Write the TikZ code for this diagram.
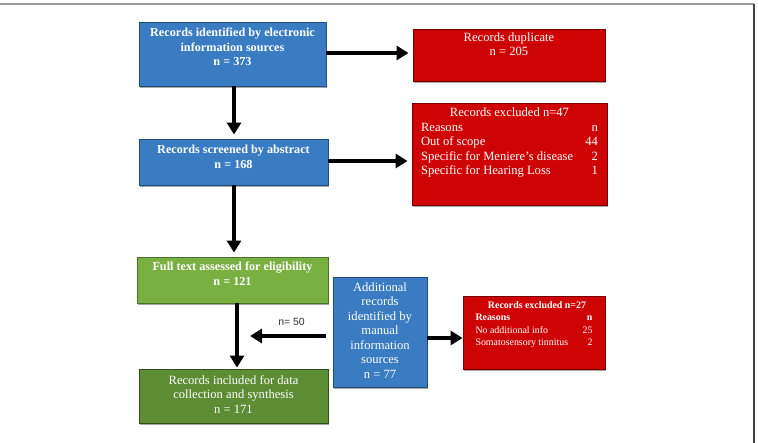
\documentclass[tikz,border=0pt]{standalone}
\usepackage{fontspec}
\setmainfont{Liberation Serif}
\newfontfamily\arialf{Liberation Sans}
\usetikzlibrary{arrows.meta,shadows}
\definecolor{cblue}{RGB}{58,124,194}
\definecolor{cblueD}{RGB}{35,75,125}
\definecolor{cred}{RGB}{206,4,4}
\definecolor{credD}{RGB}{120,0,0}
\definecolor{cgreenL}{RGB}{121,176,66}
\definecolor{cgreenLD}{RGB}{75,115,40}
\definecolor{cgreenD}{RGB}{92,140,52}
\definecolor{cgreenDD}{RGB}{50,80,28}
\begin{document}
\begin{tikzpicture}[x=1pt,y=-1pt,
  box/.style={rectangle, line width=0.9pt, text=white, inner sep=0pt,
    font=\fontsize{12.6}{14.5}\selectfont,
    drop shadow={shadow xshift=1.2pt,shadow yshift=-1.6pt,fill=black,opacity=0.35}},
  bluebox/.style={box, fill=cblue, draw=cblueD},
  redbox/.style={box, fill=cred, draw=credD},
  lgbox/.style={box, fill=cgreenL, draw=cgreenLD},
  dgbox/.style={box, fill=cgreenD, draw=cgreenDD},
  boldtext/.style={font=\fontsize{12.2}{14.5}\selectfont\bfseries},
  arr/.style={line width=3.6pt, -{Triangle[width=14pt,length=12pt]}, shorten >=4pt},
  framel/.style={line width=1.2pt}
]
\useasboundingbox (0,0) rectangle (758,443);
\draw[framel, black!40] (0,4) -- (754,4);
\draw[framel, black!75] (754,4) -- (754,443);

\node[bluebox, boldtext, minimum width=187pt, minimum height=64pt] (b1) at (232.5,54)
  {\begin{tabular}{@{}c@{}}Records identified by electronic\\information sources\\n = 373\\[11pt]\end{tabular}};
\node[redbox, minimum width=192pt, minimum height=52pt] (dup) at (509,55)
  {\begin{tabular}{@{}c@{}}Records duplicate\\n = 205\\[19pt]\end{tabular}};
\node[bluebox, boldtext, minimum width=189pt, minimum height=46pt] (b2) at (233.5,162)
  {\begin{tabular}{@{}c@{}}Records screened by abstract\\n = 168\\[8pt]\end{tabular}};
\node[redbox, minimum width=195pt, minimum height=102pt] (ex1) at (509.5,154)
  {\begin{tabular*}{177pt}{@{}l@{\extracolsep{\fill}}r@{}}
   \multicolumn{2}{c}{Records excluded n=47}\\
   Reasons & n\\
   Out of scope & 44\\
   Specific for Meniere's disease & 2\\
   Specific for Hearing Loss & 1\\[22pt]
   \end{tabular*}};
\node[lgbox, boldtext, minimum width=191pt, minimum height=46pt] (g1) at (232.5,280)
  {\begin{tabular}{@{}c@{}}Full text assessed for eligibility\\n = 121\\[10pt]\end{tabular}};
\node[dgbox, minimum width=189pt, minimum height=54pt] (g2) at (233.5,396)
  {\begin{tabular}{@{}c@{}}Records included for data\\collection and synthesis\\n = 171\end{tabular}};
\node[bluebox, minimum width=94pt, minimum height=110pt] (add) at (380,332)
  {\begin{tabular}{@{}c@{}}Additional\\records\\identified by\\manual\\information\\sources\\n = 77\end{tabular}};
\node[redbox, minimum width=142pt, minimum height=73pt, font=\fontsize{9.9}{12.3}\selectfont] (ex2) at (534,332.5)
  {\begin{tabular*}{117pt}{@{}l@{\extracolsep{\fill}}r@{}}
   \multicolumn{2}{c}{\hspace{6pt}\bfseries Records excluded n=27}\\
   \bfseries Reasons & \bfseries n\\
   No additional info & 25\\
   Somatosensory tinnitus & 2\\[16pt]
   \end{tabular*}};

\coordinate (n50end) at (250,336);
\draw[arr] (b1.east |- 0,53) -- (dup.west |- 0,53);
\draw[arr] (b1.south -| 234,0) -- (b2.north -| 234,0);
\draw[arr] (b2.east |- 0,161) -- (ex1.west |- 0,161);
\draw[arr] (b2.south -| 234,0) -- (g1.north -| 234,0);
\draw[arr, shorten >=1pt] (g1.south -| 237,0) -- (g2.north -| 237,0);
\draw[arr, shorten >=0pt] ([xshift=-7pt]add.west |- 0,336) -- (n50end)
  node[pos=0.45, above=5pt, text=black!80, font=\arialf\fontsize{10.5}{12}\selectfont] (n50) {n= 50};
\draw[arr, shorten >=0pt] (add.east |- 0,338) -- (ex2.west |- 0,338);
\end{tikzpicture}
\end{document}
